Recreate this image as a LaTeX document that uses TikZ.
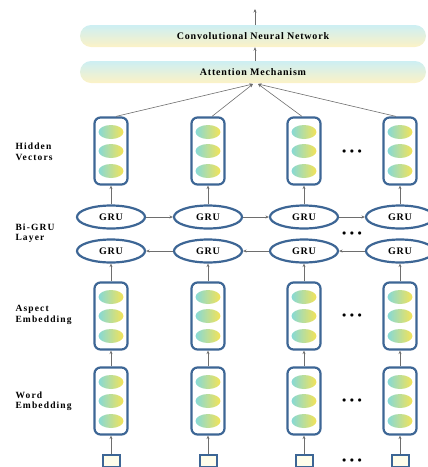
\documentclass[tikz,border=0pt]{standalone}
\usepackage{fontspec}
\setmainfont{Liberation Serif}
\usepackage{tikz}
\usetikzlibrary{shapes.geometric,arrows.meta}

\definecolor{boxblue}{HTML}{3D6695}
\definecolor{cellcyan}{HTML}{86D9D6}
\definecolor{cellyellow}{HTML}{F4E357}
\definecolor{barcyan}{HTML}{CDEFF3}
\definecolor{baryellow}{HTML}{FCF2C6}
\definecolor{linegray}{HTML}{6E6E6E}

\newcommand{\wide}[1]{\addfontfeatures{LetterSpace=#1}}

\tikzset{
	vecbox/.style={draw=boxblue, line width=2.2pt, rounded corners=6pt, fill=white,
		minimum width=33pt, minimum height=67pt, inner sep=0pt},
	cell/.style={ellipse, left color=cellcyan, right color=cellyellow, draw=none,
		minimum width=25pt, minimum height=14pt, inner sep=0pt},
	gru/.style={ellipse, draw=boxblue, line width=2.2pt, fill=white,
		minimum width=68pt, minimum height=23pt, inner sep=0pt,
		font=\bfseries\fontsize{10}{11}\selectfont\wide{8}},
	inbox/.style={draw=boxblue, line width=2pt, fill=yellow!8,
		minimum width=17pt, minimum height=12pt, inner sep=0pt},
	bar/.style={rounded corners=11pt, top color=barcyan, bottom color=baryellow, draw=none,
		minimum width=346pt, minimum height=22pt, inner sep=0pt,
		font=\bfseries\fontsize{10}{11}\selectfont\wide{8}},
	lab/.style={anchor=west, align=left,
		font=\bfseries\fontsize{9.5}{10.5}\selectfont\wide{12}},
	dots/.style={inner sep=0pt, font=\fontsize{8}{8}\selectfont},
	conn/.style={draw=linegray, line width=0.6pt, -{Stealth[length=3.5pt,width=3pt]}}
}

\begin{document}
\begin{tikzpicture}[x=1pt, y=-1pt]
	\useasboundingbox (0,0) rectangle (428,467);

	% top bars
	\node[bar] at (253,36) (cnn) {Convolutional Neural Network};
	\node[bar] at (253,72) (att) {Attention Mechanism};
	\coordinate (out) at (255,9);
	\coordinate (attL) at (253,84);
	\coordinate (attR) at (258,84);
	\draw[conn, line width=0.8pt] (att.north -| out) -- (cnn.south -| out);
	\draw[conn, line width=0.8pt] (cnn.north -| out) -- (out);

	% row labels
	\node[lab] at (12,152) (lhid) {Hidden\\Vectors};
	\node[lab] at (12,233) (lgru) {Bi-GRU\\Layer};
	\node[lab] at (12,315) (lasp) {Aspect\\Embedding};
	\node[lab] at (12,401) (lword) {Word\\Embedding};

	% columns
	\foreach \i/\x in {1/111, 2/208, 3/304, 4/400} {
		\node[vecbox] at (\x,151) (hid\i) {};
		\node[gru] at (\x,217) (fw\i) {GRU};
		\node[gru] at (\x,251) (bw\i) {GRU};
		\node[vecbox] at (\x,316) (asp\i) {};
		\node[vecbox] at (\x,401) (word\i) {};
		\node[inbox] at (\x,461) (in\i) {};
		\foreach \b in {hid, asp, word} {
			\node[cell] at ([yshift=-20pt]\b\i.center) {};
			\node[cell] at (\b\i.center) {};
			\node[cell] at ([yshift=19pt]\b\i.center) {};
		}
		\draw[conn] (in\i) -- (word\i);
		\draw[conn] (word\i) -- (asp\i);
		\draw[conn] (asp\i) -- (bw\i);
		\draw[conn] (fw\i) -- (hid\i);
	}

	% recurrent links
	\draw[conn] (fw1) -- (fw2);
	\draw[conn] (fw2) -- (fw3);
	\draw[conn] (fw3) -- (fw4);
	\draw[conn] (bw2) -- (bw1);
	\draw[conn] (bw3) -- (bw2);
	\draw[conn] (bw4) -- (bw3);

	% attention inputs
	\draw[conn] ([xshift=5pt]hid1.north) -- (attL);
	\draw[conn] ([xshift=4pt]hid2.north) -- (attL);
	\draw[conn] ([xshift=-2pt]hid3.north) -- (attR);
	\draw[conn] ([xshift=-4pt]hid4.north) -- (attR);

	% ellipsis
	\node[dots] at (352,152) (d1) {$\bullet\hspace{1.5pt}\bullet\hspace{1.5pt}\bullet$};
	\node[dots] at (352,234) (d2) {$\bullet\hspace{1.5pt}\bullet\hspace{1.5pt}\bullet$};
	\node[dots] at (352,316) (d3) {$\bullet\hspace{1.5pt}\bullet\hspace{1.5pt}\bullet$};
	\node[dots] at (352,401) (d4) {$\bullet\hspace{1.5pt}\bullet\hspace{1.5pt}\bullet$};
	\node[dots] at (352,461) (d5) {$\bullet\hspace{1.5pt}\bullet\hspace{1.5pt}\bullet$};
\end{tikzpicture}
\end{document}
